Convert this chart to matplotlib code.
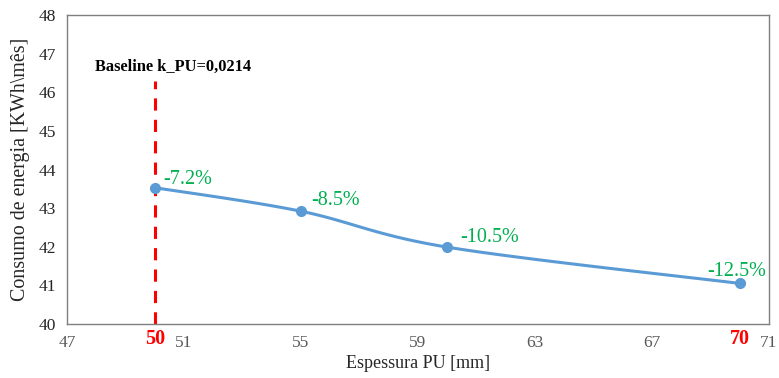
import numpy as np
import matplotlib
matplotlib.use("Agg")
import matplotlib.pyplot as plt

plt.rcParams['font.family'] = ['Liberation Serif', 'DejaVu Serif']

# Insulation thickness (mm) and monthly energy use
thickness = [50, 55, 60, 70]
consumption = [43.53, 42.92, 41.99, 41.05]
savings_labels = ["-7.2%", "-8.5%", "-10.5%", "-12.5%"]
x_ticks = [47, 51, 55, 59, 63, 67, 71]
y_ticks = [40, 41, 42, 43, 44, 45, 46, 47, 48]
highlight_ticks = [50, 70]
baseline_x = 50
baseline_top = 46.3
baseline_text = "Baseline k_PU=0,0214"

line_color = "#5B9BD5"
label_color = "#00B050"
axis_gray = "#7F7F7F"
tick_gray = "#595959"


def smooth_curve(xs, ys, n=40, tension=1/6):
    """Bezier curve through the points, similar to spreadsheet smoothed lines."""
    xs = np.asarray(xs, float)
    ys = np.asarray(ys, float)
    px = np.concatenate([[xs[0]], xs, [xs[-1]]])
    py = np.concatenate([[ys[0]], ys, [ys[-1]]])
    out_x, out_y = [], []
    t = np.linspace(0, 1, n)
    for i in range(1, len(px) - 2):
        p0 = np.array([px[i], py[i]])
        p3 = np.array([px[i + 1], py[i + 1]])
        p1 = p0 + tension * (np.array([px[i + 1], py[i + 1]]) - np.array([px[i - 1], py[i - 1]]))
        p2 = p3 - tension * (np.array([px[i + 2], py[i + 2]]) - np.array([px[i], py[i]]))
        b = ((1 - t) ** 3)[:, None] * p0 + (3 * (1 - t) ** 2 * t)[:, None] * p1 \
            + (3 * (1 - t) * t ** 2)[:, None] * p2 + (t ** 3)[:, None] * p3
        out_x.extend(b[:, 0])
        out_y.extend(b[:, 1])
    return np.array(out_x), np.array(out_y)


fig = plt.figure(figsize=(7.79, 3.78), dpi=100)
ax = fig.add_axes([0.086, 0.143, 0.901, 0.817])

sx, sy = smooth_curve(thickness, consumption)
ax.plot(sx, sy, color=line_color, lw=2.2, zorder=3, solid_capstyle='round')
ax.plot(thickness, consumption, 'o', color=line_color, ms=7, zorder=4)

# Baseline marker
ax.plot([baseline_x, baseline_x], [40, baseline_top], color="#FF0000",
        lw=2.2, ls=(0, (4, 3)), zorder=2)
ax.text(baseline_x + 0.62, baseline_top + 0.15, baseline_text, ha='center', va='bottom',
        fontsize=11.8, fontweight='bold', color='black')

# Savings labels
offsets = [(0.3, 0.2, 'left', 'center'), (0.35, 0.27, 'left', 'center'),
           (0.45, 0.25, 'left', 'center'), (-0.1, 0.3, 'center', 'center')]
for x, y, s, (dx, dy, ha, va) in zip(thickness, consumption, savings_labels, offsets):
    ax.text(x + dx, y + dy, s, ha=ha, va=va, fontsize=14.5, color=label_color)

ax.set_xlim(47, 71)
ax.set_ylim(40, 48)
ax.set_xticks(x_ticks)
ax.set_yticks(y_ticks)
ax.tick_params(length=0, labelsize=12.5, labelcolor=tick_gray, pad=8)
ax.tick_params(axis='y', labelcolor='#262626', pad=8)

# red highlight labels just below the axis
for h in highlight_ticks:
    ax.text(h, 40 - 0.12, str(h), ha='center', va='top',
            fontsize=14.5, fontweight='bold', color='#FF0000')

for sp in ax.spines.values():
    sp.set_color(axis_gray)
    sp.set_linewidth(1.0)

ax.set_xlabel("Espessura PU [mm]", fontsize=13, color='#262626', labelpad=3)
ax.set_ylabel("Consumo de energia [KWh\\mês]", fontsize=14.4, color='#262626', labelpad=6)

fig.savefig("out.png", dpi=100)
